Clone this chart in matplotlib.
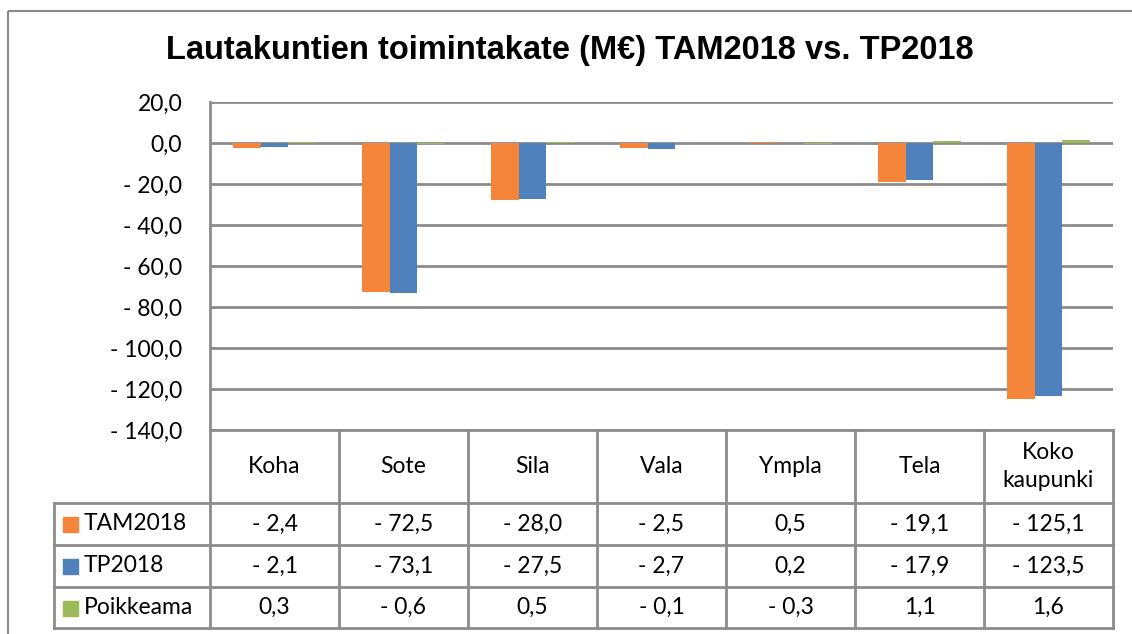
import matplotlib.pyplot as plt
from matplotlib.lines import Line2D
from matplotlib.patches import Rectangle
import numpy as np

# Data from the chart's data table
categories = ["Koha", "Sote", "Sila", "Vala", "Ympla", "Tela", "Koko\nkaupunki"]
tam2018 = [-2.4, -72.5, -28.0, -2.5, 0.5, -19.1, -125.1]
tp2018 = [-2.1, -73.1, -27.5, -2.7, 0.2, -17.9, -123.5]
poikkeama = [0.3, -0.6, 0.5, -0.1, -0.3, 1.1, 1.6]
series_names = ["TAM2018", "TP2018", "Poikkeama"]
y_ticks = [20, 0, -20, -40, -60, -80, -100, -120, -140]

colors = ["#F5853B", "#4F81BD", "#9BBB59"]
grid_col = "#8C8C8C"
W, H = 1132, 634
FS = 16.5


def fi_fmt(v):
    s = f"{abs(v):.1f}".replace(".", ",")
    return f"- {s}" if v < -1e-9 else s


fig = plt.figure(figsize=(W / 100, H / 100), dpi=100)
fig.patch.set_facecolor("white")

# plot area in pixel coordinates
L, R, T, B = 210, 1113, 102, 430
ax = fig.add_axes([L / W, 1 - B / H, (R - L) / W, (B - T) / H])
series = [tam2018, tp2018, poikkeama]
bw = 0.217
x = np.arange(len(categories))
for k, (vals, c) in enumerate(zip(series, colors)):
    ax.bar(x + (k - 1) * bw, vals, width=bw, color=c, zorder=3)
ax.set_xlim(-0.5, len(categories) - 0.5)
ax.set_ylim(-140, 20)
ax.set_yticks(y_ticks)
ax.set_yticklabels([fi_fmt(v) for v in y_ticks], fontsize=FS, family="Lato")
ax.tick_params(axis="y", length=0, pad=20)
ax.set_xticks([])
for v in y_ticks:
    ax.axhline(v, color=grid_col, lw=2, zorder=1)
for s in ["top", "right", "bottom"]:
    ax.spines[s].set_visible(False)
ax.spines["left"].set_color(grid_col)
ax.spines["left"].set_linewidth(2)

# overlay in pixel coordinates for frame, title and data table
ov = fig.add_axes([0, 0, 1, 1], zorder=5)
ov.set_xlim(0, W)
ov.set_ylim(H, 0)
ov.axis("off")
ov.patch.set_alpha(0)

ov.add_patch(Rectangle((8, 11), W, H, fill=False, ec="#898989", lw=1.5))
ov.text(570, 50, "Lautakuntien toimintakate (M\u20ac) TAM2018 vs. TP2018",
        ha="center", va="center", fontsize=23.5, fontweight="bold",
        family="Liberation Sans")

col_w = (R - L) / len(categories)
rows_y = [430, 503, 545, 587, 628]
lkw = dict(color=grid_col, lw=2)
# horizontal lines
ov.add_line(Line2D([L, R], [rows_y[0]] * 2, **lkw))
for yy in rows_y[1:]:
    ov.add_line(Line2D([54, R], [yy] * 2, **lkw))
# vertical lines
for i in range(len(categories) + 1):
    ov.add_line(Line2D([L + i * col_w] * 2, [rows_y[0], rows_y[-1]], **lkw))
ov.add_line(Line2D([54, 54], [rows_y[1], rows_y[-1]], **lkw))

tkw = dict(fontsize=FS, family="Lato", ha="center", va="center")
for i, cat in enumerate(categories):
    ov.text(L + (i + 0.5) * col_w, (rows_y[0] + rows_y[1]) / 2, cat,
            linespacing=1.4, **tkw)
for r, (name, vals, c) in enumerate(zip(series_names, series, colors)):
    yc = (rows_y[r + 1] + rows_y[r + 2]) / 2
    ov.add_patch(Rectangle((63, yc - 7), 15, 15, color=c))
    ov.text(84, yc, name, fontsize=FS, family="Lato", ha="left", va="center")
    for i, v in enumerate(vals):
        ov.text(L + (i + 0.5) * col_w, yc, fi_fmt(v), **tkw)

fig.savefig("out.png", dpi=100)
